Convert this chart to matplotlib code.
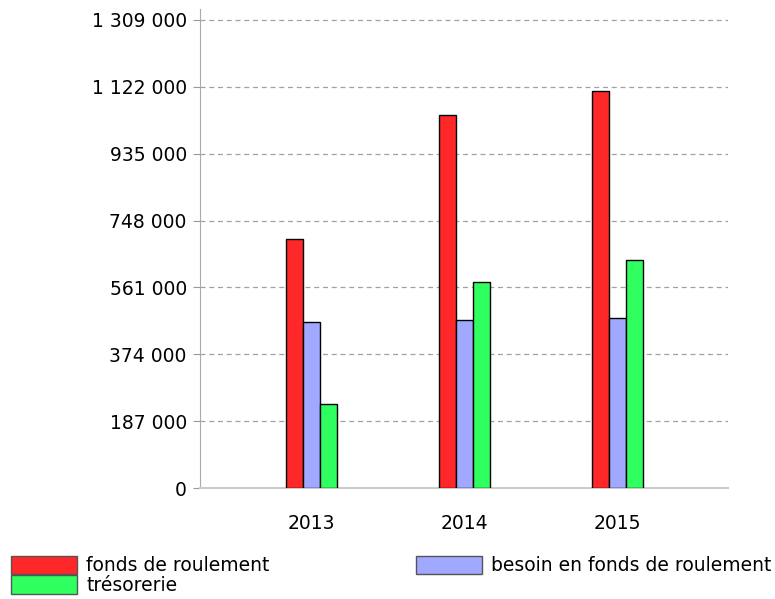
import matplotlib.pyplot as plt
import matplotlib.patches as mpatches
import numpy as np

# Données
annees = ["2013", "2014", "2015"]
fonds_roulement = [696000, 1043000, 1111000]
besoin_fr = [463000, 470000, 474000]
tresorerie = [235000, 575000, 638000]
yticks = [0, 187000, 374000, 561000, 748000, 935000, 1122000, 1309000]
ytick_labels = ["0", "187 000", "374 000", "561 000", "748 000", "935 000", "1 122 000", "1 309 000"]

couleurs = ["#ff2828", "#a0a8ff", "#30ff60"]
noms = ["fonds de roulement", "besoin en fonds de roulement", "trésorerie"]

plt.rcParams['font.family'] = ['DejaVu Sans']

fig = plt.figure(figsize=(7.75, 5.99), dpi=100)
ax = fig.add_axes([0.258, 0.1853, 0.681, 0.8])

x = np.arange(len(annees))
w = 0.111
ax.bar(x - w, fonds_roulement, w, color=couleurs[0], edgecolor="black", linewidth=1, zorder=3)
ax.bar(x, besoin_fr, w, color=couleurs[1], edgecolor="black", linewidth=1, zorder=3)
ax.bar(x + w, tresorerie, w, color=couleurs[2], edgecolor="black", linewidth=1, zorder=3)

ax.set_xlim(-0.73, 2.72)
ax.set_ylim(0, 1340000)
ax.set_yticks(yticks)
ax.set_yticklabels(ytick_labels)
ax.set_xticks(x)
ax.set_xticklabels(annees)
ax.tick_params(axis="y", direction="out", length=5, color="#999999", pad=4.5, labelsize=13.5)
ax.tick_params(axis="x", length=0, pad=19, labelsize=13.5)

ax.yaxis.grid(True, linestyle=(0, (4, 3)), color="#a0a0a0", linewidth=0.9, zorder=0)
for s in ["top", "right"]:
    ax.spines[s].set_visible(False)
ax.spines["left"].set_color("#aaaaaa")
ax.spines["bottom"].set_color("#cccccc")
ax.spines["bottom"].set_linewidth(1.5)

# Légende sur deux colonnes
poignees = [mpatches.Patch(facecolor=couleurs[0], edgecolor="#555555", label=noms[0]),
            mpatches.Patch(facecolor=couleurs[2], edgecolor="#555555", label=noms[2]),
            mpatches.Patch(facecolor=couleurs[1], edgecolor="#555555", label=noms[1])]
fig.legend(handles=poignees, loc="lower left", bbox_to_anchor=(0.0, -0.012), ncol=2,
           frameon=False, fontsize=13.5, handlelength=3.5, handleheight=1.15,
           labelspacing=0.0, columnspacing=7.8, handletextpad=0.5, borderaxespad=0.2)

fig.savefig("out.png", dpi=100)
